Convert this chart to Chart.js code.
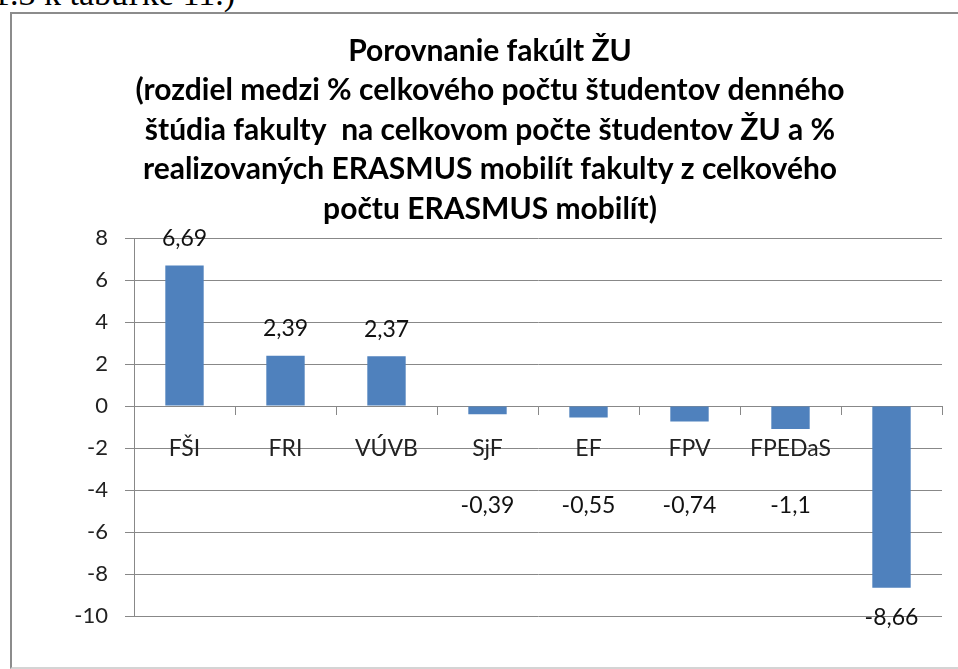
<!DOCTYPE html>
<html>
<head>
<meta charset="utf-8">
<script src="https://cdn.jsdelivr.net/npm/chart.js@4.4.1/dist/chart.umd.min.js"></script>
<style>
  html, body { margin:0; padding:0; background:#fff; overflow:hidden; width:958px; height:669px; }
  #doc { position:absolute; left:-7px; top:-23px; font-family:"Liberation Serif", serif; font-size:34px; line-height:34px; color:#000; white-space:nowrap; }
  #frame { position:absolute; left:10px; top:12px; width:1100px; height:653px; border-left:2px solid #8c8c8c; border-top:2px solid #8c8c8c; border-bottom:2px solid #d4d4d4; }
  #wrap { position:absolute; left:0; top:0; width:980px; height:669px; }
</style>
</head>
<body>
<div id="doc">1.3 k tabuľke 11.)</div>
<div id="frame"></div>
<div id="wrap"><canvas id="c" width="980" height="669"></canvas></div>
<script>
const categories = ["FŠI", "FRI", "VÚVB", "SjF", "EF", "FPV", "FPEDaS", "SvF"];
const values = [6.69, 2.39, 2.37, -0.39, -0.55, -0.74, -1.1, -8.66];
const titleLines = [
  "Porovnanie fakúlt ŽU",
  "(rozdiel medzi % celkového počtu študentov denného",
  "štúdia fakulty  na celkovom počte študentov ŽU a %",
  "realizovaných ERASMUS mobilít fakulty z celkového",
  "počtu ERASMUS mobilít)"
];
const yMin = -10, yMax = 8, yStep = 2;

const FONT = "Lato, 'Open Sans', sans-serif";

const valueLabels = {
  id: 'valueLabels',
  afterDatasetsDraw(chart) {
    const ctx = chart.ctx;
    const meta = chart.getDatasetMeta(0);
    const zeroY = chart.scales.y.getPixelForValue(0);
    ctx.save();
    ctx.font = "23px " + FONT;
    ctx.fillStyle = "#111";
    ctx.textAlign = "center";
    ctx.textBaseline = "middle";
    meta.data.forEach((bar, i) => {
      const v = values[i];
      let y;
      if (v >= 0) y = bar.y - 27;
      else y = Math.max(bar.y + 30, zeroY + 100);
      ctx.fillText(String(v).replace('.', ','), bar.x, y);
    });
    ctx.restore();
  }
};

new Chart(document.getElementById('c'), {
  type: 'bar',
  data: {
    labels: categories,
    datasets: [{
      data: values,
      backgroundColor: '#4F81BD',
      borderWidth: 0,
      categoryPercentage: 1,
      barPercentage: 0.38
    }]
  },
  options: {
    responsive: false,
    animation: false,
    devicePixelRatio: 1,
    layout: { padding: { left: 38, right: 38, top: 13, bottom: 53 } },
    plugins: {
      legend: { display: false },
      tooltip: { enabled: false },
      title: {
        display: true,
        text: titleLines,
        color: '#000',
        font: { family: FONT, size: 30, weight: 'bold', lineHeight: '39.5px' },
        padding: { top: 18.5, bottom: 9 }
      }
    },
    scales: {
      x: {
        position: { y: 0 },
        afterFit: (s) => { s.height = 0; },
        grid: { display: true, drawOnChartArea: false, drawTicks: true, tickLength: 8, offset: true, color: '#888' },
        border: { display: true, color: '#888', width: 1 },
        ticks: { color: '#222', font: { family: FONT, size: 23 }, padding: 21, maxRotation: 0, autoSkip: false }
      },
      y: {
        min: yMin, max: yMax,
        afterFit: (s) => { s.width = 96; },
        grid: { color: '#888', lineWidth: 1, tickLength: 9, drawTicks: true },
        border: { display: true, color: '#888', width: 1 },
        ticks: { stepSize: yStep, color: '#222', font: { family: FONT, size: 22 }, padding: 17 }
      }
    }
  },
  plugins: [valueLabels]
});
</script>
</body>
</html>
